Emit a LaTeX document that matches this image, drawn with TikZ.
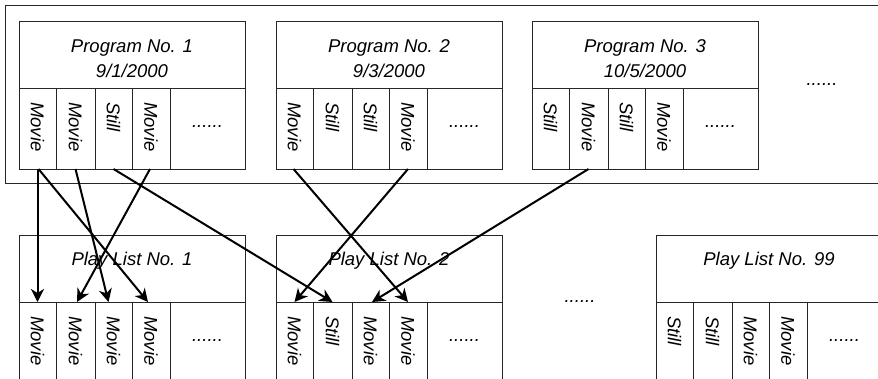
\documentclass[tikz,border=0pt]{standalone}
\usepackage{fontspec}
\setmainfont{Liberation Sans}
\usetikzlibrary{arrows.meta,calc}
\begin{document}
\begin{tikzpicture}[x=1pt,y=-1pt,
  box/.style={draw=black!85, line width=0.8pt, inner sep=0pt, outer sep=0pt, anchor=north west},
  lab/.style={font=\fontsize{18.5}{25}\selectfont\itshape, inner sep=0pt, anchor=base},
  vlab/.style={font=\fontsize{18.5}{25}\selectfont\itshape, inner sep=0pt, rotate=-90, anchor=west},
  arr/.style={line width=2pt, -{Stealth[length=13pt,width=13pt,inset=4pt]}}
]
\useasboundingbox (0,0) rectangle (878,378);
\clip (0,0) rectangle (878,378);
% outer frame
\node[box, minimum width=890, minimum height=178] (frame) at (5,5) {};
% programs
\foreach \n/\x in {1/19, 2/276, 3/532} {
  \node[box, minimum width=226, minimum height=67] (p\n) at (\x,21) {};
  \foreach \c/\dx/\w in {1/0/37, 2/37/39, 3/76/37, 4/113/38, 5/151/75}
    \node[box, minimum width=\w, minimum height=81] (p\n-\c) at (\x+\dx,88) {};
}
% play lists
\foreach \n/\x in {1/19, 2/276, 99/656} {
  \node[box, minimum width=226, minimum height=67] (l\n) at (\x,235) {};
  \foreach \c/\dx/\w in {1/0/37, 2/37/39, 3/76/37, 4/113/38, 5/151/75}
    \node[box, minimum width=\w, minimum height=95] (l\n-\c) at (\x+\dx,302) {};
}
% headers
\node[lab] (t1a) at ($(p1.north)+(0,31)$) {Program No. 1};
\node[lab] (t1b) at ($(p1.north)+(0,56)$) {9/1/2000};
\node[lab] (t2a) at ($(p2.north)+(0,31)$) {Program No. 2};
\node[lab] (t2b) at ($(p2.north)+(0,56)$) {9/3/2000};
\node[lab] (t3a) at ($(p3.north)+(0,31)$) {Program No. 3};
\node[lab] (t3b) at ($(p3.north)+(0,56)$) {10/5/2000};
\node[lab] (u1) at ($(l1.north)+(0,30)$) {Play List No. 1};
\node[lab] (u2) at ($(l2.north)+(0,30)$) {Play List No. 2};
\node[lab] (u99) at ($(l99.north)+(0,30)$) {Play List No. 99};
% vertical labels
\foreach \b/\a/\bb/\cc/\d in {p1/Movie/Movie/Still/Movie, p2/Movie/Still/Still/Movie, p3/Still/Movie/Still/Movie,
  l1/Movie/Movie/Movie/Movie, l2/Movie/Still/Movie/Movie, l99/Still/Still/Movie/Movie} {
  \node[vlab] (\b-v1) at ($(\b-1.north)+(0,14)$) {\a};
  \node[vlab] (\b-v2) at ($(\b-2.north)+(0,14)$) {\bb};
  \node[vlab] (\b-v3) at ($(\b-3.north)+(0,14)$) {\cc};
  \node[vlab] (\b-v4) at ($(\b-4.north)+(0,14)$) {\d};
  \node[lab] (\b-dots) at ($(\b-5.north)+(0,39)$) {......};
}
\node[lab] (dotsR) at (822,85) {......};
\node[lab] (dotsM) at (580,302) {......};
% arrows
\draw[arr] (p1-1.south) -- (l1-1.north);
\draw[arr] ([xshift=1pt]p1-1.south) -- ([xshift=-3pt]l1-4.north);
\draw[arr] (p1-2.south) -- ([xshift=-5pt]l1-3.north);
\draw[arr] ([xshift=-1pt]p1-4.south) -- ([xshift=1.5pt]l1-2.north);
\draw[arr] (p1-3.south) -- (l2-2.north);
\draw[arr] ([xshift=-1pt]p2-1.south) -- (l2-4.north);
\draw[arr] (p2-4.south) -- (l2-1.north);
\draw[arr] (p3-2.south) -- ([xshift=1.5pt]l2-3.north);
\end{tikzpicture}
\end{document}
